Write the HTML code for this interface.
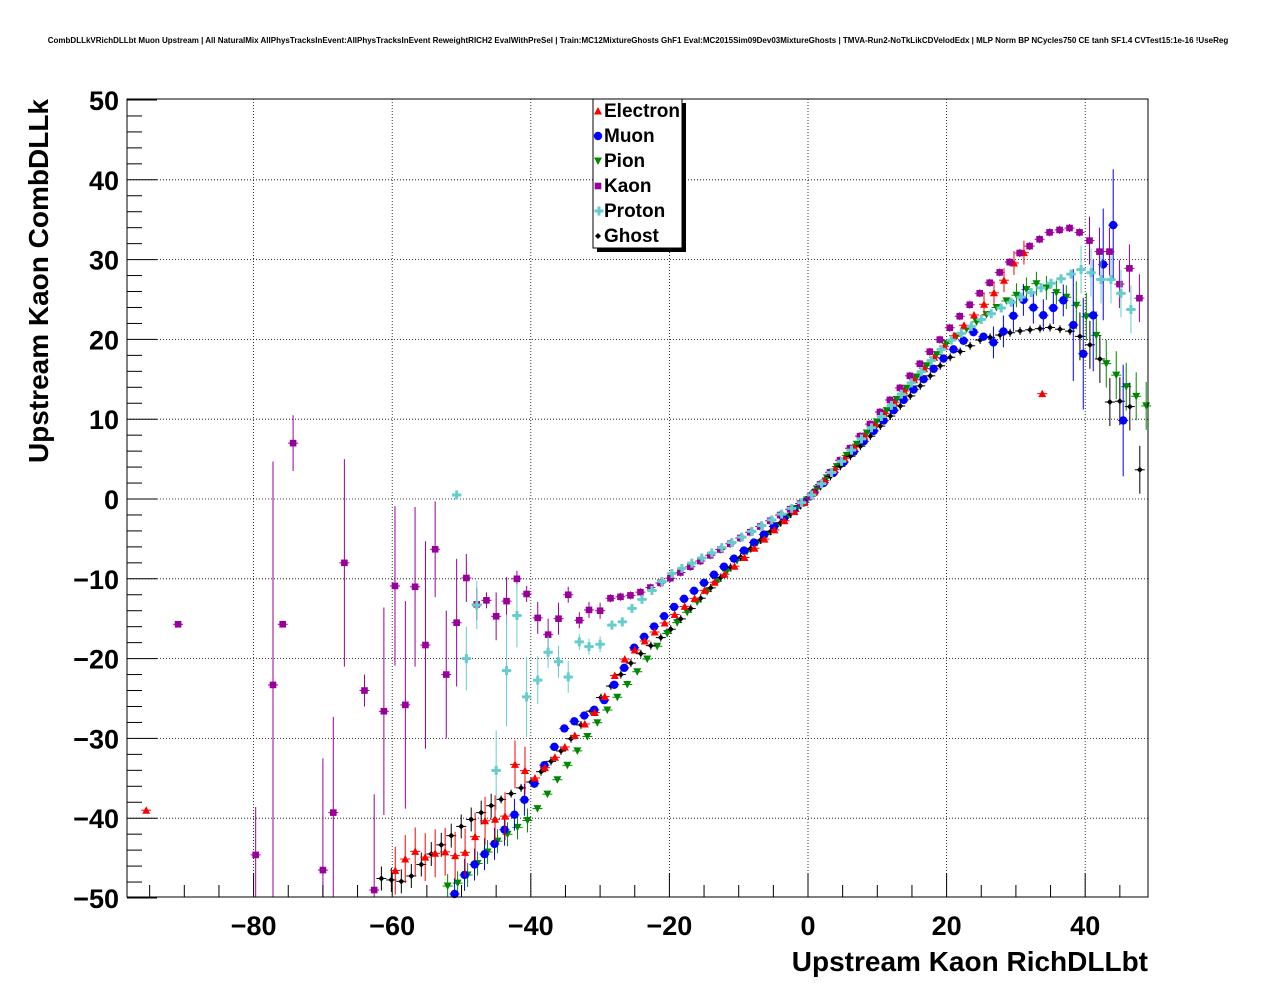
<!DOCTYPE html>
<html><head><meta charset="utf-8"><style>
body{margin:0;background:#fff;}
svg{display:block;font-family:"Liberation Sans",Arial,sans-serif;}
</style></head><body>
<svg id="s" width="1276" height="996" xmlns="http://www.w3.org/2000/svg">
<rect width="1276" height="996" fill="#fff"/>
<text x="638" y="43" font-size="8" font-weight="bold" text-anchor="middle">CombDLLkVRichDLLbt Muon Upstream | All NaturalMix AllPhysTracksInEvent:AllPhysTracksInEvent ReweightRICH2 EvalWithPreSel | Train:MC12MixtureGhosts GhF1 Eval:MC2015Sim09Dev03MixtureGhosts | TMVA-Run2-NoTkLikCDVelodEdx | MLP Norm BP NCycles750 CE tanh SF1.4 CVTest15:1e-16 !UseReg</text>
<g id="grid"></g>
<g id="data"></g>
<rect x="127" y="99" width="1021" height="798" fill="none" stroke="#000" stroke-width="1"/>
<g id="ticks"></g>
<text x="1148" y="971" font-size="28" font-weight="bold" text-anchor="end">Upstream Kaon RichDLLbt</text>
<text transform="translate(48,99) rotate(-90)" font-size="28" font-weight="bold" text-anchor="end">Upstream Kaon CombDLLk</text>
<rect x="597" y="103" width="89" height="149" fill="#000"/>
<rect x="593" y="99" width="89" height="149" fill="#fff" stroke="#000" stroke-width="1"/>
<g font-size="19" font-weight="bold">
<text x="604" y="117">Electron</text>
<text x="604" y="142">Muon</text>
<text x="604" y="167">Pion</text>
<text x="604" y="192">Kaon</text>
<text x="604" y="217">Proton</text>
<text x="604" y="242">Ghost</text>
</g>
<g id="leg"></g>
</svg>
<script>
const NS="http://www.w3.org/2000/svg";
function el(p,t,a){const e=document.createElementNS(NS,t);for(const k in a)e.setAttribute(k,a[k]);p.appendChild(e);return e;}
const X=v=>808+v*6.93, Y=v=>499-v*7.98;
const g=document.getElementById('grid'),tk=document.getElementById('ticks'),d=document.getElementById('data'),lg=document.getElementById('leg');
for(let v=-80;v<=40;v+=20){el(g,'line',{x1:X(v),x2:X(v),y1:99,y2:897,stroke:'#000','stroke-dasharray':'1,2','stroke-width':0.8});
 const t=el(tk,'text',{x:X(v),y:935,'font-size':27,'font-weight':'bold','text-anchor':'middle'});t.textContent=(v<0?'\u2212':'')+Math.abs(v);}
for(let v=-95;v<=45;v+=5){el(tk,'line',{x1:X(v),x2:X(v),y1:897,y2:897-(v%20==0?24:12),stroke:'#000'});}
for(let v=-40;v<=40;v+=10){el(g,'line',{x1:127,x2:1148,y1:Y(v),y2:Y(v),stroke:'#000','stroke-dasharray':'1,2','stroke-width':0.8});}
for(let v=-50;v<=50;v+=2){el(tk,'line',{x1:127,x2:127+(v%10==0?30:15),y1:Y(v),y2:Y(v),stroke:'#000'});}
for(let v=-50;v<=50;v+=10){const t=el(tk,'text',{x:119,y:Y(v)+10,'font-size':27,'font-weight':'bold','text-anchor':'end'});t.textContent=(v<0?'\u2212':'')+Math.abs(v);}
function interp(k,x){for(let i=0;i<k.length-1;i++){if(x>=k[i][0]&&x<=k[i+1][0]){const t=(x-k[i][0])/(k[i+1][0]-k[i][0]);return k[i][1]+t*(k[i+1][1]-k[i][1]);}}return null;}
function mark(p,type,c,x,y){
 if(type=='tu')el(p,'path',{d:`M${x-4},${y+3.5} L${x+4},${y+3.5} L${x},${y-4}Z`,fill:c});
 else if(type=='td')el(p,'path',{d:`M${x-4},${y-3.5} L${x+4},${y-3.5} L${x},${y+4}Z`,fill:c});
 else if(type=='c')el(p,'circle',{cx:x,cy:y,r:4.2,fill:c});
 else if(type=='s')el(p,'rect',{x:x-3.3,y:y-3.3,width:6.6,height:6.6,fill:c});
 else if(type=='p')el(p,'path',{d:`M${x-4.5},${y-1.5}h3v-3h3v3h3v3h-3v3h-3v-3h-3z`,fill:c});
 else if(type=='d')el(p,'path',{d:`M${x-3},${y} L${x},${y-3} L${x+3},${y} L${x},${y+3}Z`,fill:c});
}
function draw(c,type,pts){for(const [x,y,e] of pts){const px=X(x),py=Y(y);if(py>897+3||py<99)continue;
 el(d,'line',{x1:px-5,x2:px+5,y1:py,y2:py,stroke:c,'stroke-width':1});
 if(e>0)el(d,'line',{x1:px,x2:px,y1:Math.max(99,Y(y+e)),y2:Math.min(897,Y(y-e)),stroke:c,'stroke-width':1});
 mark(d,type,c,px,py);}}
function gen(k,x0,x1,errf){const r=[];for(let x=x0;x<=x1;x+=1.44){const y=interp(k,x);if(y!==null)r.push([x,y,errf(x)]);}return r;}
const eF=x=>x>38?3:(x>30?1.5:(x<-40?1.5:0.4));
draw('#008800','td',gen([[-52,-48.5],[-50,-48],[-45,-43],[-40,-40],[-31,-28.7],[-20,-16.5],[-10,-7.5],[0,0],[20,19.5],[28,24.5],[33,27],[38,25],[41,22],[43,17],[46,14],[49,11.5]],-52,49,eF));
draw('#000000','d',gen([[-62,-47.5],[-58,-48],[-55,-45],[-50,-41],[-45,-38],[-40,-35.5],[-35,-31],[-30,-25],[-25,-20],[-20,-16.5],[-10,-7.5],[0,0],[20,17.5],[25,20],[30,21],[35,21.5],[38,21],[40,20],[42,18],[44,10.5],[46,14],[48,3]],-63,49,x=>x>38?3:(x<-45?1.5:0.5)));
draw('#0000ff','c',gen([[-51,-49.5],[-50,-47.5],[-45,-43],[-40,-36.5],[-35,-28.5],[-30,-26],[-27,-22],[-25,-18.5],[-20,-14],[-10,-7],[0,0],[20,18],[24,21],[27,19.5],[29,22],[31,25],[34,23],[37,25],[40,17.5],[42,27],[44,35],[46,1]],-51,47,x=>x>38?7:(x>26?2:(x<-40?2:0.4))));
draw('#ff0000','tu',gen([[-60,-47],[-57,-44],[-55,-45],[-53,-44],[-50,-45],[-46,-39.5],[-44,-41],[-42,-32],[-40,-35.5],[-35,-31],[-30,-26],[-27,-20.5],[-20,-15],[-10,-8],[0,0],[20,19.5],[25,24],[28,27],[30,30],[32,31.5]],-61,33,x=>x<-40?3:(x>25?1.5:0.4)));
draw('#ff0000','tu',[[-95.5,-39,0],[33.8,13.2,0]]);
draw('#990099','s',[[-90.9,-15.7,0],[-79.7,-44.6,6],[-77.2,-23.3,28],[-75.8,-15.7,0],[-74.3,7,3.5],[-70,-46.5,14],[-68.5,-39.3,12],[-66.9,-8,13],[-64,-24,2],[-62.6,-49,12],[-61.2,-26.6,13],[-59.6,-10.9,10],[-58.1,-25.8,13],[-56.7,-11,10],[-55.2,-18.3,13],[-53.8,-6.3,6],[-52.2,-22,8],[-50.7,-15.5,8],[-49.3,-9.9,3],[-47.8,-13.2,2],[-46.4,-12.7,1],[-45,-14.7,3],[-43.5,-12.8,3],[-42,-10,1],[-40.6,-11.9,1],[-39,-14.9,2],[-37.5,-17,2],[-36,-15,2],[-34.6,-12,1],[-33,-15.2,1],[-31.6,-13.9,1],[-30,-14,1]]);
draw('#990099','s',gen([[-29,-12.5],[-25,-12],[-20,-10],[-10,-5],[0,0],[20,21],[25,26],[30,30.5],[35,33.5],[38,34],[40,33],[42,31],[44,31],[45.5,24.5],[47,32],[48.5,19.5]],-28.5,49,x=>x>40?3:0.5));
draw('#66cccc','p',[[-50.7,0.5,0],[-49.3,-20,4],[-47.8,-13.3,3],[-45,-34,5],[-43.5,-21.5,7],[-42,-14.6,4],[-40.6,-24.8,5],[-39,-22.7,3],[-37.5,-19.2,2],[-36,-20.4,2],[-34.6,-22.3,2],[-33,-17.9,1],[-31.6,-18.5,1],[-30,-18.2,1],[-28.3,-15.8,0.5],[-26.8,-15.4,0.5]]);
draw('#66cccc','p',gen([[-25.4,-13.7],[-20,-9.5],[-10,-5],[0,0],[20,19.5],[25,22.5],[30,25],[35,27],[40,29],[42,27.5],[44,27.5],[46,24.5],[48,22]],-25.4,49,x=>x>38?3:0.5));
mark(lg,'tu','#ff0000',598,111);mark(lg,'c','#0000ff',598,136);mark(lg,'td','#008800',598,161);
mark(lg,'s','#990099',598,186);mark(lg,'p','#66cccc',599,211);mark(lg,'d','#000000',598,236);
</script>
</body></html>
